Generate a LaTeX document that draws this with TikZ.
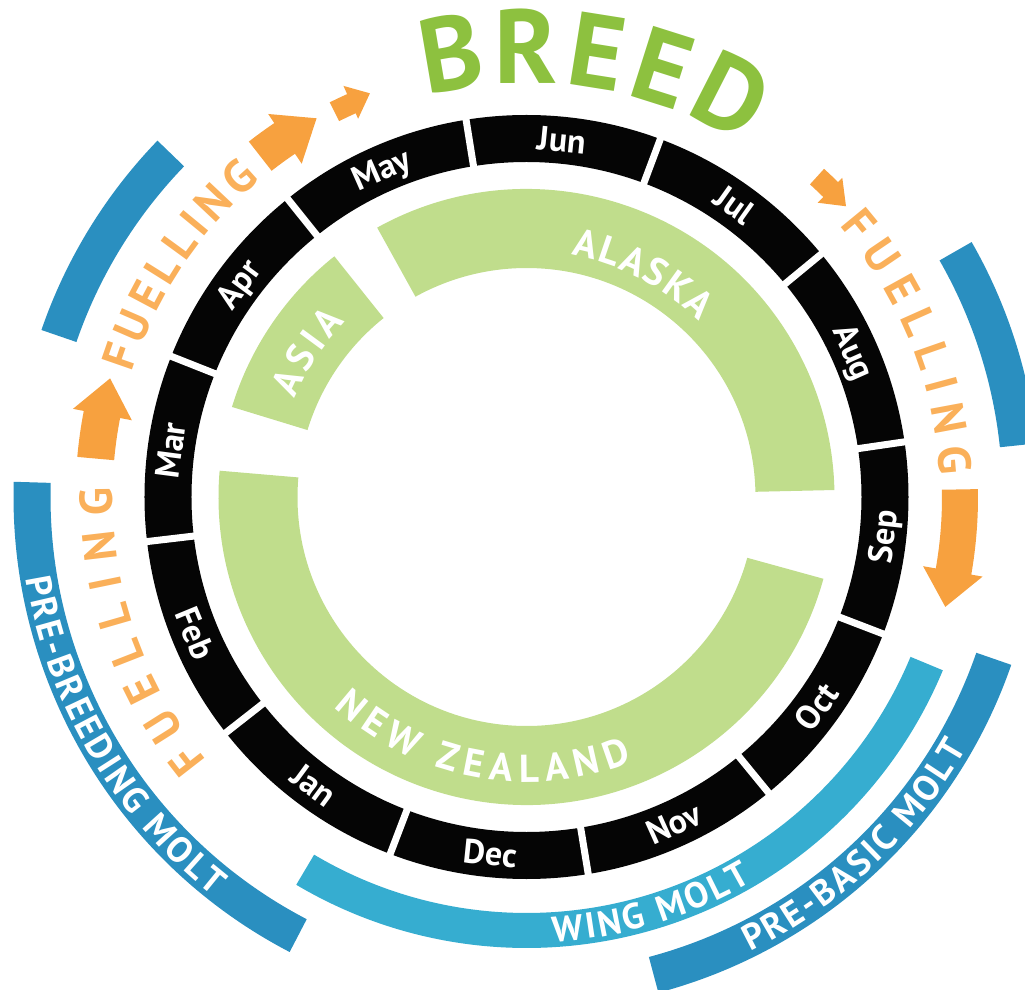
\documentclass[tikz,border=0pt]{standalone}
\usepackage{fontspec}
\setmainfont{PT Sans}
\usetikzlibrary{decorations.text}
\definecolor{ringblack}{HTML}{050505}
\definecolor{lgreen}{HTML}{C0DD8C}
\definecolor{dgreen}{HTML}{8DC13F}
\definecolor{orarrow}{HTML}{F7A13F}
\definecolor{ortext}{HTML}{FAB05A}
\definecolor{dblue}{HTML}{2A8FC0}
\definecolor{lblue}{HTML}{36ADD0}
% annular band: colour, inner r, outer r, start angle, end angle
\newcommand{\band}[5]{%
  \fill[#1] (#4:#2pt) arc[start angle=#4,end angle=#5,radius=#2pt]
    -- (#5:#3pt) arc[start angle=#5,end angle=#4,radius=#3pt] -- cycle;}
% curved arrow: shaft rin, shaft rout, head rin, head rout, a1, ahead, atip, rtip
\newcommand{\carrow}[8]{%
  \fill[orarrow] (#5:#1pt) arc[start angle=#5,end angle=#6,radius=#1pt]
    -- (#6:#3pt) -- (#7:#8pt) -- (#6:#4pt) -- (#6:#2pt)
    arc[start angle=#6,end angle=#5,radius=#2pt] -- cycle;}
\newcommand{\fuelf}{\fontsize{46pt}{46pt}\selectfont\bfseries}
\newcommand{\breedf}{\fontsize{105pt}{105pt}\selectfont\bfseries}
\newcommand{\placef}{\fontsize{39pt}{39pt}\selectfont\bfseries}
\newcommand{\moltf}{\fontsize{36pt}{36pt}\selectfont\bfseries}
\tikzset{
  month/.style={text=white, font=\fontsize{34pt}{34pt}\selectfont\bfseries,
    inner sep=0pt, anchor=center, text height=23pt, text depth=0pt},
  gapline/.style={white, line width=7pt},
}
\begin{document}
\begin{tikzpicture}
\useasboundingbox (-526.5pt,-493pt) rectangle (498.5pt,497pt);
\clip (-526.5pt,-493pt) rectangle (498.5pt,497pt);

% month ring
\fill[ringblack, even odd rule] (0,0) circle (382pt) (0,0) circle (335pt);
\foreach \a in {99.1,69.5,39.5,8.3,-21,-50.7,-80.7,-110.9,-141.9,-173.3,158.4,128.7}
  \draw[gapline] (\a:328pt) -- (\a:389pt);

\node[month, rotate=-5.7]  (mJun) at (84.3:358.5pt) {Jun};
\node[month, rotate=-35.5] (mJul) at (54.5:358.5pt) {Jul};
\node[month, rotate=-66.1] (mAug) at (23.9:358.5pt) {Aug};
\node[month, rotate=83.65] (mSep) at (-6.35:358.5pt) {Sep};
\node[month, rotate=54.15] (mOct) at (-35.85:358.5pt) {Oct};
\node[month, rotate=24.3]  (mNov) at (-65.7:358.5pt) {Nov};
\node[month, rotate=-5.8]  (mDec) at (-95.8:358.5pt) {Dec};
\node[month, rotate=-36.4] (mJan) at (-126.4:358.5pt) {Jan};
\node[month, rotate=-67.6] (mFeb) at (-157.6:358.5pt) {Feb};
\node[month, rotate=82.55] (mMar) at (172.55:358.5pt) {Mar};
\node[month, rotate=53.55] (mApr) at (143.55:358.5pt) {Apr};
\node[month, rotate=23.9]  (mMay) at (113.9:358.5pt) {May};

% location bands
\band{lgreen}{229}{308}{1.3}{119}
\band{lgreen}{229}{308}{128.6}{163}
\band{lgreen}{229}{308}{175.1}{344.6}

\path[decorate, decoration={text along path, text align=fit to path, text color=white,
  text={|\placef|ALASKA}}] (79.5:246pt) arc[start angle=79.5, end angle=45.5, radius=246pt];
\path[decorate, decoration={text along path, text align=fit to path, text color=white,
  text={|\placef|ASIA}}] (157:252pt) arc[start angle=157, end angle=136, radius=252pt];
\path[decorate, decoration={text along path, text align=fit to path, text color=white,
  text={|\placef|NEW ZEALAND}}] (-132.5:285pt) arc[start angle=-132.5, end angle=-68.2, radius=285pt];

% molt bands
\band{dblue}{476}{513}{136}{161}
\band{dblue}{476}{513}{6}{29.8}
\band{dblue}{476}{513}{-75.1}{-19.1}
\band{lblue}{416}{451}{-120.7}{-22.6}
\band{dblue}{476}{513}{178.3}{242.5}

\path[decorate, decoration={text along path, text align=fit to path, text color=white,
  text={|\moltf|PRE-BREEDING MOLT}}] (189.2:507pt) arc[start angle=189.2, end angle=231.9, radius=507pt];
\path[decorate, decoration={text along path, text align=fit to path, text color=white,
  text={|\moltf|WING MOLT}}] (-86.5:446pt) arc[start angle=-86.5, end angle=-59.6, radius=446pt];
\path[decorate, decoration={text along path, text align=fit to path, text color=white,
  text={|\moltf|PRE-BASIC MOLT}}] (-63.8:507pt) arc[start angle=-63.8, end angle=-29.7, radius=507pt];

% fuelling arrows
\carrow{414}{451}{402}{462}{174.9}{169}{164.1}{433}
\carrow{414}{451}{402}{462}{128}{124}{119}{433}
\carrow{420}{441}{414}{450}{116.5}{114}{111.2}{433}
\carrow{422}{443}{414}{449}{47.8}{45.3}{42.3}{432}
\carrow{415.5}{451.5}{402.6}{463}{1}{-9.9}{-14.7}{433}

% fuelling / breed labels
\path[decorate, decoration={text along path, text align=fit to path, text color=ortext,
  text={|\fuelf|FUELLING}}] (162.5:414pt) arc[start angle=162.5, end angle=130, radius=414pt];
\path[decorate, decoration={text along path, text align=fit to path, text color=ortext,
  text={|\fuelf|FUELLING}}] (41:414pt) arc[start angle=41, end angle=3, radius=414pt];
\path[decorate, decoration={text along path, text align=fit to path, text color=ortext,
  text={|\fuelf|FUELLING}}] (219.5:414pt) arc[start angle=219.5, end angle=178.7, radius=414pt];
\path[decorate, decoration={text along path, text align=fit to path, text color=dgreen,
  text={|\breedf|BREED}}] (104:414pt) arc[start angle=104, end angle=58.3, radius=414pt];
\end{tikzpicture}
\end{document}
